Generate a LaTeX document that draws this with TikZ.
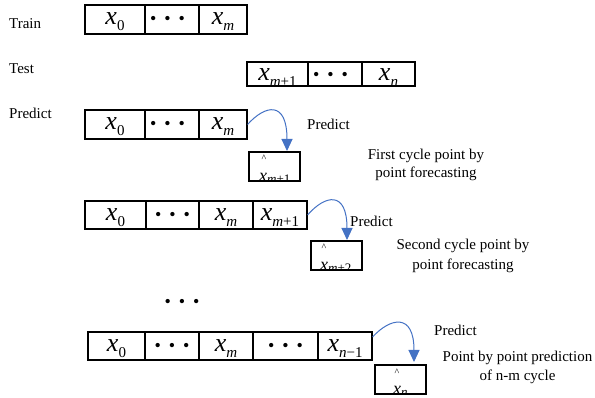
\documentclass[tikz,border=0pt]{standalone}
\usepackage{fontspec}
\setmainfont{Liberation Serif}
\usetikzlibrary{arrows.meta}
\definecolor{arrowblue}{HTML}{4472C4}
\newcommand{\xv}[1]{{\fontsize{26}{26}\selectfont\itshape x}\raisebox{-6pt}{\fontsize{15}{15}\selectfont #1}}
\newcommand{\xsm}[1]{{\fontsize{18}{18}\selectfont\itshape x}\raisebox{-2pt}{\fontsize{13}{13}\selectfont #1}}
\newcommand{\tdots}{{\fontsize{18}{18}\selectfont •\hspace{8pt}•\hspace{8pt}•}}
\newcommand{\leftdots}{\tdots\kern9pt}
\tikzset{
  cell/.style={draw, line width=1.1pt, rectangle, inner sep=0pt, minimum height=29pt,
    text height=11pt, text depth=0pt},
  tcell/.style={cell, minimum height=24pt, text height=13pt},
  outbox/.style={draw, line width=1.1pt, rectangle, inner sep=0pt, minimum width=51pt, minimum height=29pt},
  lbl/.style={font=\fontsize{15}{18}\selectfont, inner sep=0pt, anchor=base west},
  desc/.style={font=\fontsize{15}{18}\selectfont, inner sep=0pt, anchor=base},
  caret/.style={font=\fontsize{10}{10}\selectfont, inner sep=0pt},
  hatx/.style={inner sep=0pt, anchor=base west},
  arr/.style={draw=arrowblue, line width=1pt, -{Triangle[width=11pt,length=12pt]}, fill=none},
}
\begin{document}
\begin{tikzpicture}[x=1pt,y=-1pt]
\useasboundingbox (0,0) rectangle (595,398);

% labels
\node[lbl] (ltrain) at (9,29) {Train};
\node[lbl] (ltest) at (9,74) {Test};
\node[lbl] (lpred) at (9,119) {Predict};

% Train row
\node[cell, minimum width=60pt] (tr1) at (115,19.5) {\xv{0}};
\node[cell, minimum width=54pt] (tr2) at (172,19.5) {\leftdots};
\node[cell, minimum width=48pt] (tr3) at (223,19.5) {\xv{\textit{m}}};

% Test row
\node[tcell, minimum width=61pt] (te1) at (277.5,74) {\xv{\textit{m}+1}};
\node[tcell, minimum width=54pt] (te2) at (335,74) {\leftdots};
\node[tcell, minimum width=53pt] (te3) at (388.5,74) {\xv{\textit{n}}};

% Predict row 1
\node[cell, minimum width=60pt] (p1a) at (115,124.5) {\xv{0}};
\node[cell, minimum width=54pt] (p1b) at (172,124.5) {\leftdots};
\node[cell, minimum width=48pt] (p1c) at (223,124.5) {\xv{\textit{m}}};
\node[outbox] (o1) at (274.5,166.5) {};
\begin{scope}
  \clip (o1.south west) rectangle (o1.north east);
  \node[caret] (o1h) at (264,158) {\textasciicircum};
  \node[hatx] (o1x) at (259,182) {\xsm{\textit{m}+1}};
\end{scope}
\coordinate (t1) at (287,151);
\draw[arr] (p1c.east) .. controls (265,105) and (287,100) .. (t1);
\node[lbl] (pl1) at (307,130) {Predict};
\node[desc] (d1a) at (426,160) {First cycle point by};
\node[desc] (d1b) at (426,178) {point forecasting};

% Predict row 2
\node[cell, minimum width=61pt, minimum height=28pt] (r3a) at (115.5,215) {\xv{0}};
\node[cell, minimum width=53pt, minimum height=28pt] (r3b) at (172.5,215) {\tdots};
\node[cell, minimum width=54pt, minimum height=28pt] (r3c) at (226,215) {\xv{\textit{m}}};
\node[cell, minimum width=54pt, minimum height=28pt] (r3d) at (280,215) {\xv{\textit{m}+1}};
\node[outbox] (o2) at (336.5,255.5) {};
\begin{scope}
  \clip (o2.south west) rectangle (o2.north east);
  \node[caret] (o2h) at (324,247) {\textasciicircum};
  \node[hatx] (o2x) at (320,271) {\xsm{\textit{m}+2}};
\end{scope}
\coordinate (t2) at (347,240);
\draw[arr] (r3d.east) .. controls (325,195) and (347,190) .. (t2);
\node[lbl] (pl2) at (350,227) {Predict};
\node[desc] (d2a) at (463,250) {Second cycle point by};
\node[desc] (d2b) at (463,270) {point forecasting};

% vertical ellipsis
\node[inner sep=0pt] (vdots) at (182,303) {\tdots};

% Predict row n
\node[cell, minimum width=57pt, minimum height=28pt] (r4a) at (116.5,346) {\xv{0}};
\node[cell, minimum width=54pt, minimum height=28pt] (r4b) at (172,346) {\tdots};
\node[cell, minimum width=54pt, minimum height=28pt] (r4c) at (226,346) {\xv{\textit{m}}};
\node[cell, minimum width=65pt, minimum height=28pt] (r4d) at (285.5,346) {\tdots};
\node[cell, minimum width=54pt, minimum height=28pt] (r4e) at (345,346) {\xv{\textit{n}−1}};
\node[outbox] (o3) at (400.5,379.5) {};
\begin{scope}
  \clip (o3.south west) rectangle (o3.north east);
  \node[caret] (o3h) at (397,372) {\textasciicircum};
  \node[hatx] (o3x) at (393,394) {\xsm{\textit{n}}};
\end{scope}
\coordinate (t3) at (414,362);
\draw[arr] ([yshift=9pt]r4e.east) .. controls (390,318) and (414,312) .. (t3);
\node[lbl] (pl3) at (434,336) {Predict};
\node[desc] (d3a) at (517.5,362) {Point by point prediction};
\node[desc] (d3b) at (517.5,381) {of n-m cycle};
\end{tikzpicture}
\end{document}
